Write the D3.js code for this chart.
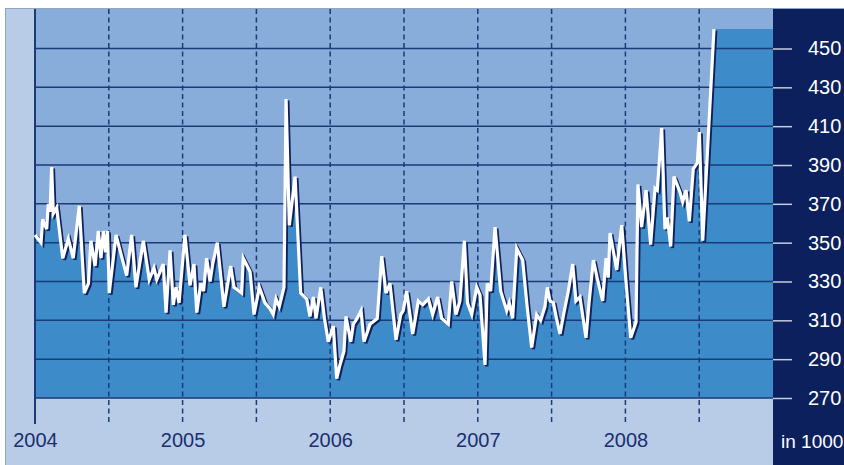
<!DOCTYPE html>
<html>
<head>
<meta charset="utf-8">
<script src="https://cdn.jsdelivr.net/npm/d3@7"></script>
<style>
  body { margin: 0; background: #fff; }
  svg { display: block; font-family: "Liberation Sans", Arial, sans-serif; }
</style>
</head>
<body>
<svg id="chart" width="844" height="465"></svg>
<script>
// time as decimal year, values in 1000
var weeks = [
    2004.000, 2004.041, 2004.052, 2004.079, 2004.090, 2004.102, 2004.113, 2004.124, 2004.147, 2004.188,
    2004.226, 2004.259, 2004.300, 2004.334, 2004.362, 2004.379, 2004.407, 2004.429, 2004.447, 2004.463,
    2004.478, 2004.491, 2004.503, 2004.549, 2004.583, 2004.621, 2004.655, 2004.684, 2004.734, 2004.774,
    2004.806, 2004.825, 2004.842, 2004.869, 2004.888, 2004.915, 2004.937, 2004.955, 2004.976, 2005.016,
    2005.050, 2005.077, 2005.096, 2005.123, 2005.142, 2005.163, 2005.186, 2005.204, 2005.235, 2005.280,
    2005.326, 2005.348, 2005.400, 2005.411, 2005.457, 2005.484, 2005.520, 2005.558, 2005.592, 2005.614,
    2005.633, 2005.655, 2005.687, 2005.701, 2005.723, 2005.762, 2005.800, 2005.841, 2005.863, 2005.886,
    2005.904, 2005.936, 2005.961, 2005.987, 2006.021, 2006.044, 2006.066, 2006.093, 2006.107, 2006.139,
    2006.157, 2006.182, 2006.209, 2006.229, 2006.270, 2006.319, 2006.349, 2006.378, 2006.405, 2006.446,
    2006.478, 2006.495, 2006.518, 2006.559, 2006.597, 2006.627, 2006.665, 2006.694, 2006.728, 2006.755,
    2006.800, 2006.823, 2006.852, 2006.879, 2006.909, 2006.930, 2006.959, 2006.993, 2007.015, 2007.049,
    2007.064, 2007.087, 2007.117, 2007.155, 2007.196, 2007.213, 2007.236, 2007.264, 2007.304, 2007.333,
    2007.365, 2007.399, 2007.426, 2007.455, 2007.471, 2007.489, 2007.512, 2007.533, 2007.557, 2007.584,
    2007.613, 2007.643, 2007.665, 2007.692, 2007.733, 2007.755, 2007.783, 2007.814, 2007.846, 2007.869,
    2007.884, 2007.896, 2007.941, 2007.975, 2008.004, 2008.036, 2008.072, 2008.085, 2008.110, 2008.140,
    2008.171, 2008.201, 2008.216, 2008.246, 2008.268, 2008.284, 2008.307, 2008.329, 2008.370, 2008.388,
    2008.411, 2008.433, 2008.460, 2008.487, 2008.501, 2008.524, 2008.600
];
var claims = [
    354, 350, 362, 357, 370, 366, 389, 365, 368, 342,
    352, 342, 369, 324, 329, 351, 338, 356, 342, 356,
    345, 356, 324, 354, 344, 333, 354, 327, 351, 331,
    337, 331, 334, 339, 314, 346, 318, 327, 319, 354,
    328, 339, 314, 329, 325, 342, 330, 339, 350, 317,
    338, 327, 324, 342, 335, 313, 327, 319, 316, 313,
    321, 317, 327, 424, 359, 384, 324, 321, 312, 322,
    311, 327, 311, 299, 307, 280, 287, 294, 312, 299,
    308, 311, 315, 299, 308, 311, 343, 324, 329, 300,
    313, 315, 325, 303, 320, 318, 321, 313, 322, 311,
    308, 330, 313, 320, 351, 319, 313, 327, 323, 287,
    329, 325, 358, 325, 315, 319, 311, 347, 341, 318,
    296, 313, 310, 317, 327, 320, 319, 311, 303, 314,
    325, 339, 320, 322, 301, 320, 341, 330, 320, 342,
    332, 355, 336, 359, 330, 301, 309, 380, 358, 377,
    349, 378, 377, 409, 357, 363, 348, 384, 376, 371,
    377, 361, 388, 391, 407, 351, 460
];
var years = [2004, 2005, 2006, 2007, 2008];
var dashYears = [2004.5, 2005, 2005.5, 2006, 2006.5, 2007, 2007.5, 2008, 2008.5];
var yTicks = [270, 290, 310, 330, 350, 370, 390, 410, 430, 450];

(function chart() {
    var data = weeks.map(function (t, i) { return { t: t, v: claims[i] }; });

    var svg = d3.select("#chart"),
        plotLeft = 35, plotRight = 773, plotTop = 9, plotBottom = 398;

    var x = d3.scaleLinear().domain([2004, 2009]).range([plotLeft, plotRight]);
    var y = d3.scaleLinear().domain([270, 450]).range([plotBottom, 48.5]);

    // frame and panels
    svg.append("rect")
        .attr("x", 5.5).attr("y", 8.5).attr("width", 840).attr("height", 460)
        .attr("fill", "#b8cce8").attr("stroke", "#8fa5c7");
    svg.append("rect")
        .attr("x", plotLeft).attr("y", plotTop)
        .attr("width", plotRight - plotLeft).attr("height", plotBottom - plotTop)
        .attr("fill", "#89addb");

    // filled area, continued flat after the last week
    var areaData = data.concat([{ t: 2009, v: claims[claims.length - 1] }]);
    var area = d3.area()
        .x(function (d) { return x(d.t); })
        .y0(y(270))
        .y1(function (d) { return y(d.v); });
    svg.append("path")
        .datum(areaData)
        .attr("d", area)
        .attr("fill", "#3e8bc9");

    svg.append("rect")
        .attr("x", plotRight).attr("y", plotTop)
        .attr("width", 844 - plotRight).attr("height", 465 - plotTop)
        .attr("fill", "#0b205c");

    // grid
    svg.append("g").selectAll("line")
        .data(yTicks).enter().append("line")
        .attr("x1", plotLeft).attr("x2", plotRight)
        .attr("y1", function (d) { return y(d); })
        .attr("y2", function (d) { return y(d); })
        .attr("stroke", "#1b3a78").attr("stroke-width", 1.5);

    svg.append("g").selectAll("line")
        .data(dashYears).enter().append("line")
        .attr("x1", function (d) { return x(d); })
        .attr("x2", function (d) { return x(d); })
        .attr("y1", plotTop).attr("y2", 424)
        .attr("stroke", "#1b3a78").attr("stroke-width", 1.5)
        .attr("stroke-dasharray", "5,3.5");

    svg.append("line")
        .attr("x1", plotLeft).attr("x2", plotLeft).attr("y1", plotTop).attr("y2", 424)
        .attr("stroke", "#1b3a78").attr("stroke-width", 2);

    // line with shadow
    var line = d3.line()
        .x(function (d) { return x(d.t); })
        .y(function (d) { return y(d.v); });

    svg.append("path")
        .datum(data)
        .attr("d", line)
        .attr("transform", "translate(1.8,1.5)")
        .attr("fill", "none")
        .attr("stroke", "#0b205c")
        .attr("stroke-width", 3.2);

    svg.append("path")
        .datum(data)
        .attr("d", line)
        .attr("fill", "none")
        .attr("stroke", "#fff")
        .attr("stroke-width", 3.2);

    // axes
    var yAxis = svg.append("g")
        .attr("transform", "translate(" + plotRight + ",0)")
        .call(d3.axisRight(y).tickValues(yTicks).tickSize(19).tickPadding(16));
    yAxis.select(".domain").remove();
    yAxis.selectAll("line").attr("stroke", "#c4cedd").attr("stroke-width", 1.5);
    yAxis.selectAll("text").attr("fill", "#fff").style("font-size", "20px")
        .style("font-family", "Liberation Sans, Arial, sans-serif");

    var xAxis = svg.append("g")
        .attr("transform", "translate(0,433)")
        .call(d3.axisBottom(x).tickValues(years).tickFormat(d3.format("d")).tickSize(0).tickPadding(0));
    xAxis.select(".domain").remove();
    xAxis.selectAll("text").attr("fill", "#1b2f6e").style("font-size", "20px")
        .style("font-family", "Liberation Sans, Arial, sans-serif");

    svg.append("text")
        .attr("x", 781).attr("y", 448)
        .attr("fill", "#fff")
        .style("font-size", "19px")
        .text("in 1000");
}());
</script>
</body>
</html>
